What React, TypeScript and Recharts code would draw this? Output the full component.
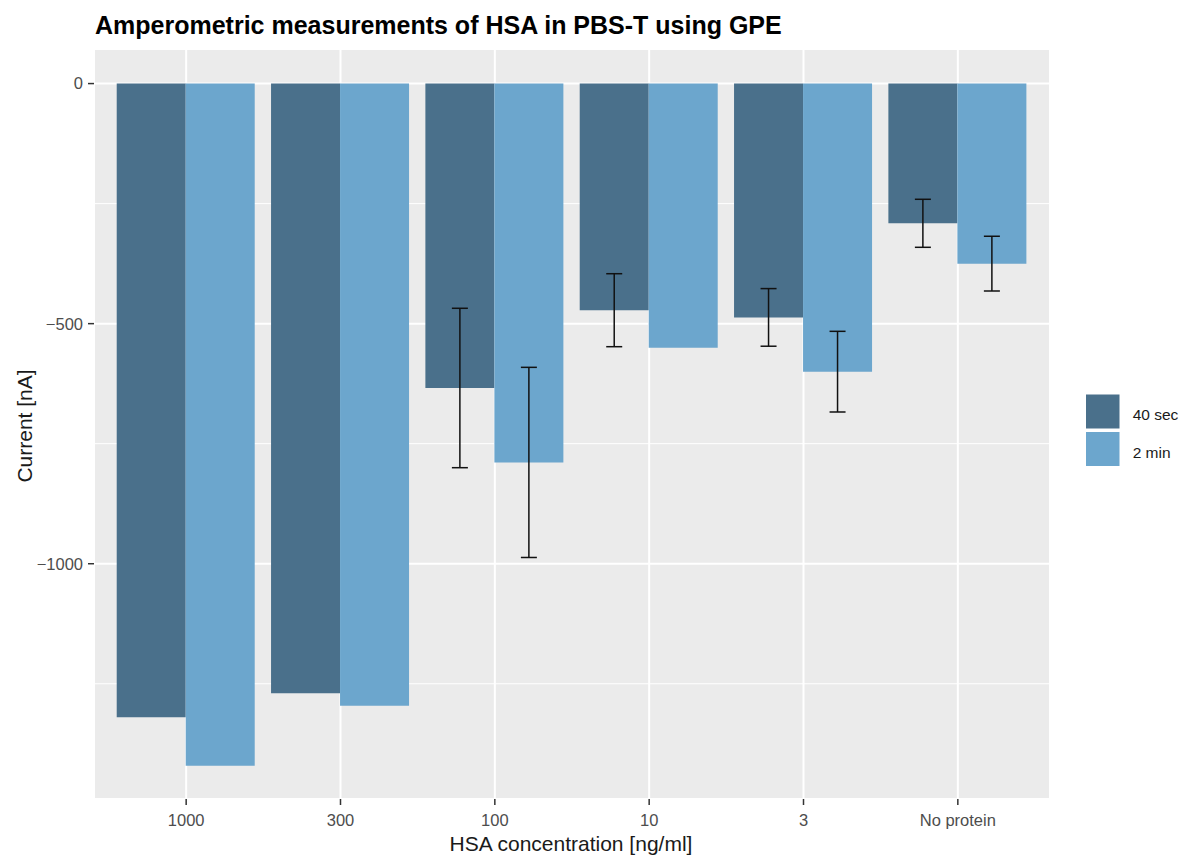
import React from 'react'
import { BarChart, Bar, XAxis, YAxis, CartesianGrid, ErrorBar } from 'recharts'

const categories = ['1000', '300', '100', '10', '3', 'No protein']
const sec40 = [-1320, -1270, -634, -472, -487, -291]
const min2 = [-1421, -1296, -789, -550, -600, -375]
const sd40: (number | null)[] = [null, null, 166, 76, 60, 50]
const sd2: (number | null)[] = [null, null, 198, null, 84, 57]

const majorTicks = [-1000, -500, 0]
const minorTicks = [-1250, -750, -250]

const DARK = '#4A708B'
const LIGHT = '#6CA6CD'

const data = categories.map((c, i) => ({
  conc: c,
  sec40: sec40[i],
  min2: min2[i],
  sd40: sd40[i],
  sd2: sd2[i],
}))

const fmt = (v: number) => String(v).replace('-', '\u2212')
const tickStyle = { fontSize: 16.5, fill: '#4D4D4D', fontFamily: 'Liberation Sans, Arial, sans-serif' }

export default function App() {
  return (
    <div style={{ position: 'relative', width: 1171, height: 851, fontFamily: 'Liberation Sans, Arial, sans-serif' }}>
      <BarChart
        width={1171}
        height={843}
        data={data}
        margin={{ top: 41, right: 129, bottom: 22, left: 26 }}
        barCategoryGap="5%"
        barGap={0}
      >
        <CartesianGrid yAxisId="minor" vertical={false} fill="#EBEBEB" stroke="#fff" strokeWidth={1} />
        <CartesianGrid stroke="#fff" strokeWidth={2} />
        <XAxis
          dataKey="conc"
          padding={{ left: 15, right: 15 }}
          axisLine={false}
          tickSize={6}
          tickMargin={9}
          tickLine={{ stroke: '#333', strokeWidth: 1.5 }}
          tick={tickStyle}
          height={30}
        />
        <YAxis
          domain={[-1490, 72]}
          allowDataOverflow
          ticks={majorTicks}
          tickFormatter={fmt}
          axisLine={false}
          tickSize={6}
          tickMargin={5}
          tickLine={{ stroke: '#333', strokeWidth: 1.5 }}
          tick={tickStyle}
          width={60}
        />
        <YAxis yAxisId="minor" hide domain={[-1490, 72]} allowDataOverflow ticks={minorTicks} />
        <Bar dataKey="sec40" fill={DARK} isAnimationActive={false}>
          <ErrorBar dataKey="sd40" width={8} stroke="#111" strokeWidth={1.5} />
        </Bar>
        <Bar dataKey="min2" fill={LIGHT} isAnimationActive={false}>
          <ErrorBar dataKey="sd2" width={8} stroke="#111" strokeWidth={1.5} />
        </Bar>
      </BarChart>
      <svg
        width={1171}
        height={851}
        style={{ position: 'absolute', left: 0, top: 0, pointerEvents: 'none', overflow: 'visible' }}
      >
        <text x={87} y={26.3} fontSize={25} fontWeight="bold" fill="#000">
          Amperometric measurements of HSA in PBS-T using GPE
        </text>
        <text x={563} y={843} fontSize={21} textAnchor="middle" fill="#1a1a1a">
          HSA concentration [ng/ml]
        </text>
        <text x={23.5} y={418} fontSize={21} textAnchor="middle" fill="#1a1a1a" transform="rotate(-90, 23.5, 418)">
          Current [nA]
        </text>
        <rect x={1078} y={386.5} width={33.5} height={34} fill={DARK} />
        <rect x={1078} y={424} width={33.5} height={34} fill={LIGHT} />
        <text x={1124.7} y={411.5} fontSize={15.5} fill="#1a1a1a">40 sec</text>
        <text x={1124.7} y={449.5} fontSize={15.5} fill="#1a1a1a">2 min</text>
      </svg>
    </div>
  )
}
